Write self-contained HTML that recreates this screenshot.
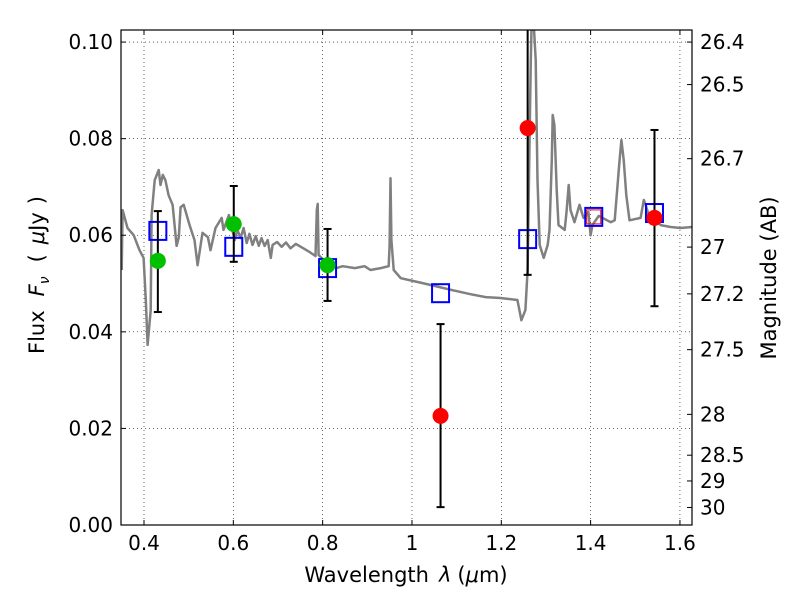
<!DOCTYPE html>
<html><head><meta charset="utf-8"><style>
body{margin:0;background:#fff;font-family:"Liberation Sans","DejaVu Sans",sans-serif}
text{font-family:"DejaVu Sans","Liberation Sans",sans-serif}
</style></head><body>
<svg id="chart" width="800" height="600" xmlns="http://www.w3.org/2000/svg">
<rect width="800" height="600" fill="#fff"/>
<g id="grid"></g>
<g id="spec"></g>
<g id="marks"></g>
<g id="axes"></g>
</svg>
<script>
const specWave=[0.350,0.352,0.363,0.377,0.390,0.399,0.404,0.408,0.415,0.417,0.424,0.433,0.437,0.442,0.448,0.455,0.464,0.473,0.478,0.482,0.489,0.502,0.513,0.520,0.531,0.543,0.549,0.560,0.574,0.578,0.590,0.603,0.609,0.616,0.623,0.630,0.636,0.643,0.650,0.657,0.663,0.670,0.677,0.684,0.688,0.698,0.708,0.718,0.728,0.740,0.751,0.771,0.784,0.787,0.789,0.791,0.802,0.811,0.831,0.845,0.872,0.894,0.907,0.930,0.948,0.950,0.952,0.954,0.959,0.975,1.004,1.042,1.087,1.131,1.165,1.198,1.236,1.245,1.254,1.259,1.263,1.266,1.268,1.272,1.277,1.281,1.286,1.295,1.304,1.308,1.313,1.315,1.319,1.324,1.328,1.342,1.346,1.351,1.355,1.364,1.375,1.384,1.395,1.400,1.404,1.418,1.445,1.454,1.465,1.469,1.474,1.480,1.487,1.512,1.519,1.523,1.530,1.557,1.579,1.601,1.628];
const specFlux=[0.0528,0.0652,0.0615,0.0600,0.0569,0.0553,0.0466,0.0373,0.0445,0.0642,0.0714,0.0735,0.0704,0.0725,0.0714,0.0683,0.0663,0.0578,0.0596,0.0658,0.0663,0.0621,0.0590,0.0538,0.0605,0.0596,0.0569,0.0615,0.0636,0.0611,0.0642,0.0590,0.0612,0.0594,0.0615,0.0584,0.0603,0.0580,0.0598,0.0578,0.0594,0.0578,0.0590,0.0553,0.0580,0.0586,0.0576,0.0585,0.0573,0.0582,0.0576,0.0565,0.0557,0.0652,0.0665,0.0559,0.0549,0.0553,0.0532,0.0536,0.0532,0.0536,0.0528,0.0532,0.0536,0.0580,0.0718,0.0590,0.0528,0.0511,0.0505,0.0497,0.0487,0.0478,0.0472,0.0470,0.0466,0.0424,0.0445,0.0528,0.0776,0.0963,0.1046,0.1046,0.0963,0.0714,0.0580,0.0553,0.0580,0.0611,0.0756,0.0849,0.0828,0.0694,0.0621,0.0611,0.0648,0.0704,0.0652,0.0627,0.0663,0.0636,0.0648,0.0600,0.0621,0.0640,0.0627,0.0631,0.0756,0.0797,0.0756,0.0683,0.0631,0.0636,0.0673,0.0663,0.0642,0.0621,0.0617,0.0615,0.0617];
const modelWave=[0.431,0.601,0.811,1.064,1.259,1.407,1.543];
const modelFlux=[0.0609,0.0576,0.0532,0.0480,0.0592,0.0638,0.0646];
const greenWave=[0.431,0.601,0.811];
const greenFlux=[0.0547,0.0623,0.0538];
const greenHi=[0.0650,0.0702,0.0613];
const greenLo=[0.0441,0.0545,0.0464];
const redWave=[1.064,1.259,1.543];
const redFlux=[0.0226,0.0822,0.0636];
const redHi=[0.0416,0.105,0.0818];
const redLo=[0.0037,0.0518,0.0453];
const redSqWave=[1.407];
const redSqFlux=[0.0638];
const xTicks=[0.4,0.6,0.8,1.0,1.2,1.4,1.6];
const xTickLabels=["0.4","0.6","0.8","1","1.2","1.4","1.6"];
const yTicks=[0,0.02,0.04,0.06,0.08,0.10];
const yTickLabels=["0.00","0.02","0.04","0.06","0.08","0.10"];
const magTicks=[26.4,26.5,26.7,27,27.2,27.5,28,28.5,29,30];
const magLabels=["26.4","26.5","26.7","27","27.2","27.5","28","28.5","29","30"];

const L=121,R=692,T=30,B=525,X0=0.3485,X1=1.627,Y0=0,Y1=0.1025;
const NS="http://www.w3.org/2000/svg";
const sx=v=>L+(v-X0)/(X1-X0)*(R-L);
const sy=v=>B-(v-Y0)/(Y1-Y0)*(B-T);
function mk(tag,attrs,parent){const e=document.createElementNS(NS,tag);for(const k in attrs)e.setAttribute(k,attrs[k]);parent.appendChild(e);return e;}
const grid=document.getElementById('grid'),spec=document.getElementById('spec'),marks=document.getElementById('marks'),axes=document.getElementById('axes');
const clip=mk('clipPath',{id:'pc'},document.getElementById('chart'));mk('rect',{x:L,y:T,width:R-L,height:B-T},clip);
spec.setAttribute('clip-path','url(#pc)');marks.setAttribute('clip-path','url(#pc)');
xTicks.forEach((t,i)=>{
 const g=mk('line',{x1:sx(t),x2:sx(t),y1:T,y2:B,stroke:'#000','stroke-width':0.6,'stroke-dasharray':'1,3'},grid);
 
 mk('line',{x1:sx(t),x2:sx(t),y1:B,y2:B-5,stroke:'#000'},axes);
 mk('line',{x1:sx(t),x2:sx(t),y1:T,y2:T+5,stroke:'#000'},axes);
 const tx=mk('text',{x:sx(t),y:B+25,'text-anchor':'middle','font-size':20},axes);tx.textContent=xTickLabels[i];
 
});
yTicks.forEach((t,i)=>{
 const g=mk('line',{x1:L,x2:R,y1:sy(t),y2:sy(t),stroke:'#000','stroke-width':0.6,'stroke-dasharray':'1,3'},grid);
 
 mk('line',{x1:L,x2:L+5,y1:sy(t),y2:sy(t),stroke:'#000'},axes);
 const tx=mk('text',{x:L-8,y:sy(t)+7,'text-anchor':'end','font-size':20},axes);tx.textContent=yTickLabels[i];
 
});
magTicks.forEach((m,i)=>{
 const f=Math.pow(10,(23.9-m)/2.5);const y=sy(f);
 mk('line',{x1:R,x2:R-5,y1:y,y2:y,stroke:'#000'},axes);
 const tx=mk('text',{x:R+8,y:y+7,'font-size':20},axes);tx.textContent=magLabels[i];
 
});
let d='';specWave.forEach((w,i)=>{d+=(i?'L':'M')+sx(w).toFixed(1)+','+sy(specFlux[i]).toFixed(1);});
const p=mk('path',{d:d,fill:'none',stroke:'#808080','stroke-width':2.5,'stroke-linejoin':'round'},spec);

function err(w,lo,hi){const x=sx(w);
 mk('line',{x1:x,x2:x,y1:sy(lo),y2:sy(hi),stroke:'#000','stroke-width':2},marks);
 mk('line',{x1:x-4,x2:x+4,y1:sy(lo),y2:sy(lo),stroke:'#000','stroke-width':2},marks);
 mk('line',{x1:x-4,x2:x+4,y1:sy(hi),y2:sy(hi),stroke:'#000','stroke-width':2},marks);}
modelWave.forEach((w,i)=>{const r=mk('rect',{x:sx(w)-8.5,y:sy(modelFlux[i])-9,width:17,height:18,fill:'none',stroke:'#0000ff','stroke-width':2},marks);
 });
redSqWave.forEach((w,i)=>{const r=mk('rect',{x:sx(w)-7,y:sy(redSqFlux[i])-7,width:14,height:14,fill:'none',stroke:'#ff0000','stroke-width':1},marks);
 });
greenWave.forEach((w,i)=>{err(w,greenLo[i],greenHi[i]);const c=mk('circle',{cx:sx(w),cy:sy(greenFlux[i]),r:8,fill:'#00c000'},marks);
 });
redWave.forEach((w,i)=>{err(w,redLo[i],redHi[i]);const c=mk('circle',{cx:sx(w),cy:sy(redFlux[i]),r:8,fill:'#ff0000'},marks);
 });
const fr=mk('rect',{x:L,y:T,width:R-L,height:B-T,fill:'none',stroke:'#000','stroke-width':1.2},axes);

</script>
<svg style="position:absolute;left:0;top:0" width="800" height="600">
<text x="406" y="582" text-anchor="middle" font-size="21" font-family="DejaVu Sans, sans-serif">Wavelength<tspan dx="10" font-style="italic">λ</tspan><tspan dx="6">(</tspan><tspan font-style="italic">μ</tspan>m)</text>
<text transform="translate(44,275) rotate(-90)" text-anchor="middle" font-size="21" font-family="DejaVu Sans, sans-serif">Flux<tspan dx="14" font-style="italic">F</tspan><tspan font-style="italic" font-size="14" dy="5">ν</tspan><tspan dy="-5" dx="14">(</tspan><tspan dx="10" font-style="italic">μ</tspan>Jy<tspan dx="8">)</tspan></text>
<text transform="translate(776,278) rotate(-90)" text-anchor="middle" font-size="21" font-family="DejaVu Sans, sans-serif">Magnitude (AB)</text>
</svg>
</body></html>
